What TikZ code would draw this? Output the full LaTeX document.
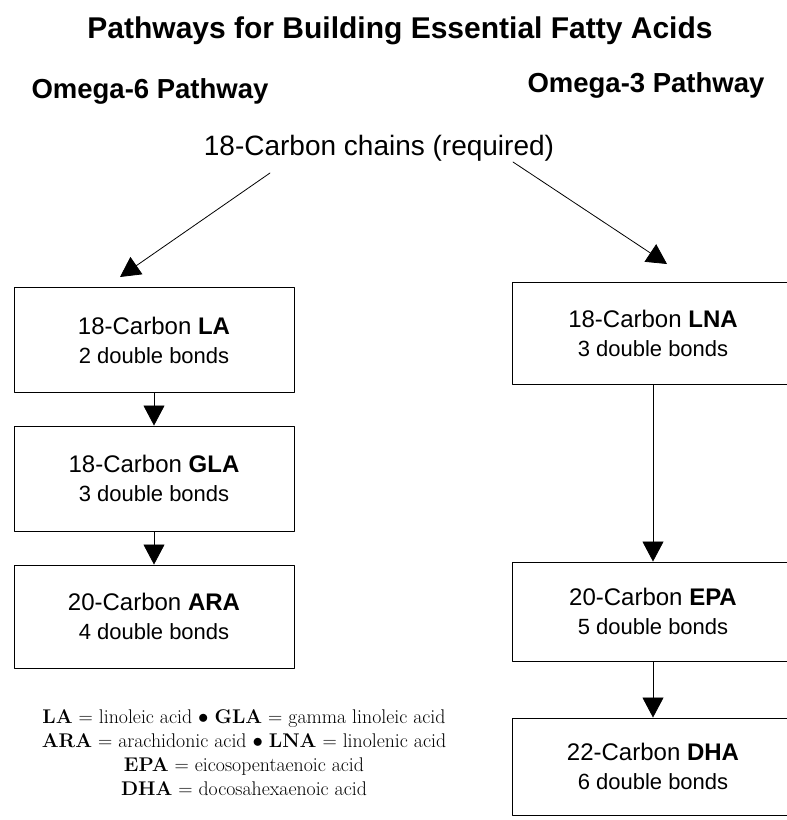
\documentclass[tikz,border=0pt]{standalone}
\usepackage{fontspec}
\newfontfamily\arialfont{Liberation Sans}
\usetikzlibrary{arrows.meta,calc}
\tikzset{
    acid/.style={
        draw, line width=0.9pt, minimum width=280pt, minimum height=105pt,
        align=center, inner sep=0pt,
        font=\arialfont\fontsize{22}{29}\selectfont
    },
    flow/.style={
        line width=0.8pt, -{Triangle[length=20pt,width=21pt]}
    },
    heading/.style={
        anchor=base west, font=\arialfont\bfseries\fontsize{27.5}{33}\selectfont
    }
}
\newcommand{\acidtext}[3]{{\fontsize{24}{29}\selectfont #1-Carbon \textbf{#2}}\\#3 double bonds}

\begin{document}
\begin{tikzpicture}[x=1pt,y=-1pt,line cap=round,line join=round]

% --- page frame (pixel grid of the reference) ---
    \useasboundingbox (0,0) rectangle (787,820);
    \clip (0,0) rectangle (787,820);

% headings
    \node[anchor=base, font=\arialfont\bfseries\fontsize{30}{36}\selectfont] (title) at (400,38)
        {Pathways for Building Essential Fatty Acids};
    \node[heading] (omega6) at (28,98) {Omega-6 Pathway};
    \node[heading] (omega3) at (524,92) {Omega-3 Pathway};
    \node[anchor=base, font=\arialfont\fontsize{28}{34}\selectfont] (chains) at (379,155)
        {18-Carbon chains (required)};

% omega-6 column
    \node[acid] (la)  at (154,340)   {\acidtext{18}{LA}{2}};
    \node[acid] (gla) at (154,478.5) {\acidtext{18}{GLA}{3}};
    \node[acid, minimum height=103pt] (ara) at (154,616.5) {\acidtext{20}{ARA}{4}};

% omega-3 column (runs off the right edge)
    \node[acid, minimum width=282pt, minimum height=102pt] (lna) at (653,333)   {\acidtext{18}{LNA}{3}};
    \node[acid, minimum width=282pt, minimum height=99pt]  (epa) at (653,611.5) {\acidtext{20}{EPA}{5}};
    \node[acid, minimum width=282pt, minimum height=97pt]  (dha) at (653,766.5) {\acidtext{22}{DHA}{6}};

% split from the 18-carbon chains
    \coordinate (w6 from) at (270,173);
    \coordinate (w6 to)   at (120,277);
    \coordinate (w3 from) at (513,162);
    \coordinate (w3 to)   at (667,264);
    \draw[flow] (w6 from) -- (w6 to);
    \draw[flow] (w3 from) -- (w3 to);

% steps down each pathway
    \draw[flow] (la.south)  -- (gla.north);
    \draw[flow] (gla.south) -- (ara.north);
    \draw[flow] (lna.south) -- (epa.north);
    \draw[flow] (epa.south) -- (dha.north);

% abbreviations
    \node[anchor=north, align=center, inner sep=0pt, font=\fontsize{19.8}{24}\selectfont] (legend) at (244,709)
        {\textbf{LA} = linoleic acid $\bullet$ \textbf{GLA} = gamma linoleic acid\\
         \textbf{ARA} = arachidonic acid $\bullet$ \textbf{LNA} = linolenic acid\\
         \textbf{EPA} = eicosopentaenoic acid\\
         \textbf{DHA} = docosahexaenoic acid};

  \end{tikzpicture}
\end{document}
